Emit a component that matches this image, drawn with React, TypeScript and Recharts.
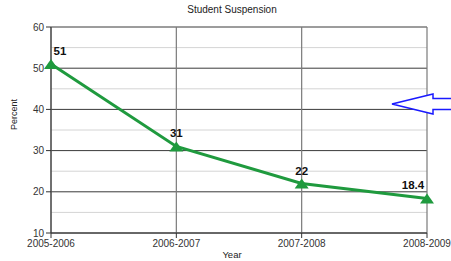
import { CartesianGrid, LabelList, Line, LineChart, ReferenceLine, XAxis, YAxis } from "recharts";

const years = ["2005-2006", "2006-2007", "2007-2008", "2008-2009"];
const percent = [51, 31, 22, 18.4];
const majorTicks = [10, 20, 30, 40, 50, 60];
const minorTicks = [15, 25, 35, 45, 55];

const data = years.map((year, i) => ({ year, percent: percent[i] }));

const GREEN = "#1f9a3e";
const FONT = "'Liberation Sans', Arial, sans-serif";

function Triangle(props: { cx?: number; cy?: number; index?: number }) {
  const { cx, cy } = props;
  if (cx == null || cy == null) return null;
  return (
    <path
      key={`tri-${props.index}`}
      d={`M${cx},${cy - 5} L${cx + 7},${cy + 5} L${cx - 7},${cy + 5} Z`}
      fill={GREEN}
    />
  );
}

function PointLabel(props: any) {
  const { x, y, value, index } = props;
  // first label sits to the right, last one to the left of its marker
  const dx = index === 0 ? 9 : index === years.length - 1 ? -14 : 0;
  return (
    <text
      x={x + dx}
      y={y - 9}
      textAnchor="middle"
      fontFamily={FONT}
      fontSize={11.5}
      fontWeight="bold"
      fill="#111"
    >
      {value}
    </text>
  );
}

export default function App() {
  return (
    <div style={{ position: "absolute", left: 0, top: 0, width: 451, height: 261, background: "#fff" }}>
      <LineChart
        width={451}
        height={261}
        data={data}
        margin={{ top: 27, right: 24, bottom: 8, left: 10 }}
      >
        <text x={232} y={13} textAnchor="middle" fontFamily={FONT} fontSize={10} fill="#222">
          Student Suspension
        </text>
        <text x={232} y={258} textAnchor="middle" fontFamily={FONT} fontSize={9.5} fill="#222">
          Year
        </text>
        {minorTicks.map((t) => (
          <ReferenceLine key={t} y={t} stroke="#d4d4d4" strokeWidth={1} />
        ))}
        <CartesianGrid vertical={false} stroke="#3a3a3a" strokeWidth={1} />
        {years.map((y) => (
          <ReferenceLine key={y} x={y} stroke="#7a7a7a" strokeWidth={1.2} />
        ))}
        <XAxis
          dataKey="year"
          height={20}
          tick={{ fontSize: 10, fill: "#333", fontFamily: FONT }}
          tickSize={5}
          stroke="#333"
          interval={0}
        />
        <YAxis
          domain={[10, 60]}
          ticks={majorTicks}
          width={41}
          tick={{ fontSize: 10, fill: "#333", fontFamily: FONT }}
          tickSize={5}
          stroke="#333"
          label={{ value: "Percent", angle: -90, position: "insideLeft", offset: 4, fontSize: 9, fill: "#222", fontFamily: FONT }}
        />
        <Line
          type="linear"
          dataKey="percent"
          stroke={GREEN}
          strokeWidth={3}
          dot={<Triangle />}
          activeDot={false}
          isAnimationActive={false}
        >
          <LabelList dataKey="percent" content={<PointLabel />} />
        </Line>
      </LineChart>
      <svg
        width={451}
        height={261}
        style={{ position: "absolute", left: 0, top: 0, pointerEvents: "none" }}
      >
        <path
          d="M392,104 L433,94 L433,98.5 L452,98.5 L452,109.5 L433,109.5 L433,114 Z"
          fill="#fff"
          stroke="#1a1aff"
          strokeWidth={1.5}
        />
      </svg>
    </div>
  );
}
